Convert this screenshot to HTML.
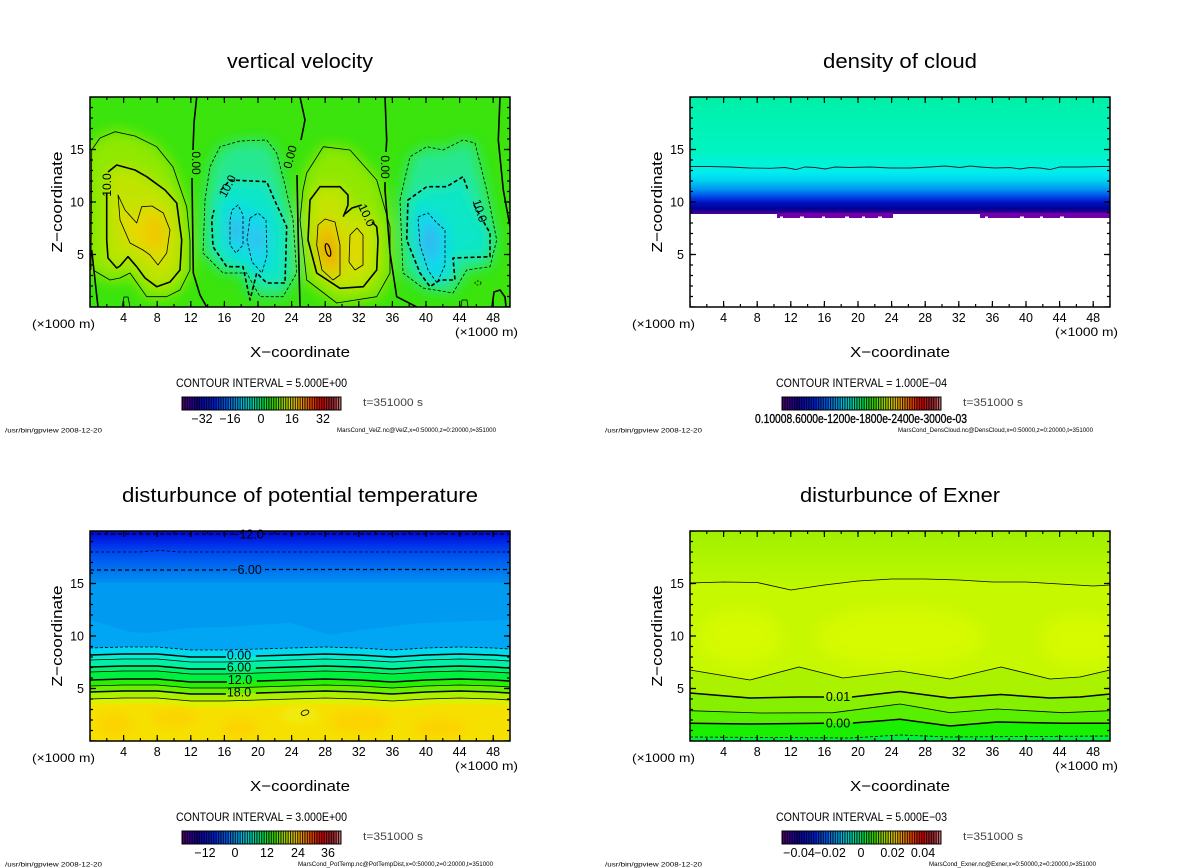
<!DOCTYPE html>
<html>
<head>
<meta charset="utf-8">
<style>
html,body{margin:0;padding:0;background:#fff;}
svg{display:block;}
text{font-family:"Liberation Sans",sans-serif;fill:#000;}
</style>
</head>
<body>
<svg width="1200" height="868" viewBox="0 0 1200 868" xmlns="http://www.w3.org/2000/svg">
<defs>
  <clipPath id="clip" clipPathUnits="userSpaceOnUse"><rect x="90" y="97" width="420" height="210"/></clipPath>
  <filter id="bl" x="-40%" y="-40%" width="180%" height="180%"><feGaussianBlur stdDeviation="7"/></filter>
  <filter id="bls" x="-40%" y="-40%" width="180%" height="180%"><feGaussianBlur stdDeviation="4"/></filter>
  <filter id="bl2" x="-30%" y="-30%" width="160%" height="160%"><feGaussianBlur stdDeviation="8"/></filter>
  <linearGradient id="cb" x1="0" y1="0" x2="1" y2="0">
    <stop offset="0" stop-color="#5a0080"/>
    <stop offset="0.1" stop-color="#1000a0"/>
    <stop offset="0.2" stop-color="#0020e0"/>
    <stop offset="0.3" stop-color="#0070f0"/>
    <stop offset="0.4" stop-color="#00d0e0"/>
    <stop offset="0.5" stop-color="#00e060"/>
    <stop offset="0.56" stop-color="#20e000"/>
    <stop offset="0.65" stop-color="#b0e000"/>
    <stop offset="0.72" stop-color="#f0c000"/>
    <stop offset="0.8" stop-color="#f06000"/>
    <stop offset="0.87" stop-color="#e00000"/>
    <stop offset="0.95" stop-color="#a02830"/>
    <stop offset="1" stop-color="#e08080"/>
  </linearGradient>
  <pattern id="stripes" x="182" y="0" width="2.4" height="20" patternUnits="userSpaceOnUse">
    <rect x="0" y="0" width="1.1" height="20" fill="#000" fill-opacity="0.85"/>
  </pattern>
  <linearGradient id="dens" x1="0" y1="97" x2="0" y2="216" gradientUnits="userSpaceOnUse">
    <stop offset="0" stop-color="#00f0a8"/>
    <stop offset="0.445" stop-color="#00f4c0"/>
    <stop offset="0.59" stop-color="#00f2e0"/>
    <stop offset="0.63" stop-color="#00eef0"/>
    <stop offset="0.70" stop-color="#00d4f0"/>
    <stop offset="0.78" stop-color="#0090f0"/>
    <stop offset="0.84" stop-color="#0044e8"/>
    <stop offset="0.89" stop-color="#0010c0"/>
    <stop offset="0.94" stop-color="#000090"/>
    <stop offset="0.975" stop-color="#400094"/>
    <stop offset="1" stop-color="#7000a8"/>
  </linearGradient>
  <linearGradient id="ptop" x1="0" y1="531" x2="0" y2="583" gradientUnits="userSpaceOnUse">
    <stop offset="0" stop-color="#0008c8"/>
    <stop offset="0.12" stop-color="#0018e0"/>
    <stop offset="0.4" stop-color="#0048f0"/>
    <stop offset="0.75" stop-color="#0074f0"/>
    <stop offset="1" stop-color="#0090f0"/>
  </linearGradient>
  <linearGradient id="etop" x1="0" y1="531" x2="0" y2="590" gradientUnits="userSpaceOnUse">
    <stop offset="0" stop-color="#a0f000"/>
    <stop offset="0.5" stop-color="#b0f400"/>
    <stop offset="1" stop-color="#bef800"/>
  </linearGradient>
</defs>

<rect x="0" y="0" width="1200" height="868" fill="#fff"/>

<!-- ================= PANEL 1 : vertical velocity ================= -->
<g>
  <g clip-path="url(#clip)">
    <rect x="90" y="97" width="420" height="210" fill="#3ae40c"/>
    <g filter="url(#bl)">
      <!-- updraft 1 -->
      <polygon fill="#90e800" points="84,275 84,150 100,136 115,129.7 135,134 156.7,144.7 173,165 188.7,206.7 192,240 192,272 180,292 166.7,299 146.7,299 130,276 120,281 110,283 93,273"/>
      <polygon fill="#c0e400" points="106.7,196.7 108,175 116.7,165 135,170 146.7,176.7 165,190 176.7,203 181.7,240 180,270 170,282 156.7,286.7 145,278 136.7,266.7 128,256.7 120,266 116.7,268 108,258 106.7,240"/>
      <polygon fill="#e8d800" points="118,195 125,210 136.7,223 141.7,206.7 152,206 163.3,213 170,230 166.7,253 158,265 150,255 143,250 130,243 120,220"/>
      <ellipse cx="155" cy="232" rx="9" ry="16" fill="#f0c400"/>
      <!-- downdraft 1 -->
      <polygon fill="#28e890" points="210,166.7 220,146.7 240,141 266.7,140 276.7,153 285,185 293,220 296.7,273 283,296.7 260,296.7 246.7,273 223,273 203,253 205,200"/>
      <polygon fill="#08e6c8" points="216.7,196.7 230,180 266.7,181.7 273,196.7 286.7,226.7 285,283 266.7,283 256.7,273 250,300 243,266.7 226.7,266.7 213,246.7 211.7,220"/>
      <polygon fill="#10d8f0" points="228,206 238,200 245,212 246,248 236,258 227,247 226,220"/>
      <polygon fill="#10d8f0" points="248,214 258,209 268,218 270,258 262,276 250,264 245,240"/>
      <ellipse cx="236" cy="230" rx="5" ry="14" fill="#40a8f0"/>
      <ellipse cx="258" cy="240" rx="5" ry="14" fill="#40b0f0"/>
      <!-- updraft 2 -->
      <polygon fill="#90e800" points="298,222 301,190 304.7,171 323.3,144.7 350,148 378.7,178 392,226.7 392,275 378.7,299 336.7,305 304.7,282"/>
      <polygon fill="#c4e400" points="310,200 320,186.7 336.7,186.7 350,196.7 343.3,216.7 360,206.7 376.7,226.7 376.7,270 363.3,286.7 340,288.3 316.7,273 310,240"/>
      <polygon fill="#eec400" points="318,225 325,219 335,222 340,245 340,275 333,280 322,270 316.7,245"/>
      <ellipse cx="328" cy="250" rx="6" ry="16" fill="#f09800" transform="rotate(-15 328 250)"/>
      <polygon fill="#e8d400" points="350,235 357,228 363,235 363,265 355,270 349,262"/>
      <!-- downdraft 2 -->
      <polygon fill="#28e890" points="400,200 410,156.7 426.7,146.7 443,150 463,140 475,143 486.7,190 496.7,240 490,266.7 466.7,270 453,293 423,288 403,273"/>
      <polygon fill="#08e6c8" points="408,200 426.7,186.7 446.7,186.7 463,176.7 470,196.7 490,233 490,256.7 453,258 455,280 440,280 430,286.7 420,273 406.7,240"/>
      <polygon fill="#10d8f0" points="414,214 428,209 438,218 448,228 448,266 438,286 426,272 416,245"/>
      <ellipse cx="430" cy="242" rx="7" ry="18" fill="#38acf0"/>
    </g>
    <!-- contour lines -->
    <g fill="none" stroke="#000" stroke-linejoin="round">
      <polyline stroke-width="0.8" points="91,270 91.7,150 100,138 115,131.7 135,136 156.7,146.7 173,167 186.7,206.7 190,240 190,270 180,290 166.7,296.7 146.7,296.7 130,273 120,278 110,280 93,270"/>
      <polyline stroke-width="1.6" points="106.7,193 106.7,240 108,258 116.7,268 120,266 128,256.7 136.7,266.7 145,278 156.7,286.7 170,282 180,270 181.7,240 176.7,203 165,190 146.7,176.7 135,170 116.7,165 108,172"/>
      <polygon stroke-width="0.8" points="118,195 125,210 136.7,223 141.7,206.7 152,206 163.3,213 170,230 166.7,253 158,265 150,255 143,250 130,243 120,220"/>
      <polygon stroke-width="0.8" stroke-dasharray="3 2" points="210,166.7 220,146.7 240,141 266.7,140 276.7,153 285,185 293,220 296.7,273 283,296.7 260,296.7 246.7,273 223,273 203,253 205,200"/>
      <polyline stroke-width="1.6" stroke-dasharray="4 2.5" points="221,190 230,180 266.7,181.7 273,196.7 286.7,226.7 285,283 266.7,283 256.7,273 250,300 243,266.7 226.7,266.7 213,246.7 211.7,220 214,210"/>
      <polygon stroke-width="0.8" stroke-dasharray="3 2" points="232,210 238,205 243,215 243,245 236,253 230,245 230,220"/>
      <polygon stroke-width="0.8" stroke-dasharray="3 2" points="250,218 258,213 266,220 267,255 262,273 252,262 247,240"/>
      <polygon stroke-width="0.8" points="300,220 303,190 306.7,173 323.3,146.7 350,150 376.7,180 390,226.7 390,273 376.7,296.7 336.7,303 306.7,280"/>
      <polyline stroke-width="1.6" points="343.3,216.7 348,205 348,195 340,186.7 320,186.7 310,200 308,240 316.7,273 340,288.3 363.3,286.7 376.7,270 378,240 376.7,226.7 372,222"/>
      <polyline stroke-width="1.6" points="361.7,205 352,208 345,214"/>
      <polygon stroke-width="0.8" points="318,225 325,219 335,222 340,245 340,275 333,280 322,270 316.7,245"/>
      <polygon stroke-width="0.8" points="350,235 357,228 363,235 363,265 355,270 349,262"/>
      <ellipse cx="328" cy="250" rx="2.3" ry="6.5" stroke-width="1.2" transform="rotate(-15 328 250)"/>
      <polygon stroke-width="0.8" stroke-dasharray="3 2" points="400,200 410,156.7 426.7,146.7 443,150 463,140 475,143 486.7,190 496.7,240 490,266.7 466.7,270 453,293 423,288 403,273"/>
      <polyline stroke-width="1.6" stroke-dasharray="4 2.5" points="474,205 490,233 490,256.7 453,258 455,280 440,280 430,286.7 420,273 406.7,240 408,200 426.7,186.7 446.7,186.7 463,176.7 468,190"/>
      <polygon stroke-width="0.8" stroke-dasharray="3 2" points="418,217 428,213 436,222 445,230 445,265 437,283 428,270 420,245"/>
      <!-- zero lines -->
      <polyline stroke-width="1.6" points="196.7,97 194,123 193,150"/>
      <polyline stroke-width="1.6" points="192,178 193.3,273 200,295 206.7,307"/>
      <polyline stroke-width="1.6" points="300,97 305,120 301,140"/>
      <polyline stroke-width="1.6" points="297,175 298,226.7 300,307"/>
      <polyline stroke-width="1.6" points="385,97 386.7,140 386,152"/>
      <polyline stroke-width="1.6" points="385,182 385,190 390,253 396.7,296.7 416.7,307"/>
      <polyline stroke-width="1.6" points="500,97 498.3,140 503.3,190 510,226.7"/>
      <polyline stroke-width="1.6" points="91.7,250 95,280 98,307"/>
      <polyline stroke-width="0.8" points="122,307 124,297 128,297 130,307"/>
      <polyline stroke-width="0.8" points="461,307 462,300 467,300 468,307"/>
      <polyline stroke-width="1.6" points="492,307 494,292 500,290 505,297 506,307"/>
      <ellipse cx="478" cy="283" rx="3" ry="2" stroke-width="0.8" stroke-dasharray="2 1.5"/>
    </g>
    <g font-size="12">
      <text transform="translate(111,185) rotate(-90)" text-anchor="middle">10.0</text>
      <text transform="translate(231,188) rotate(-62)" text-anchor="middle">10.0</text>
      <text transform="translate(363,217) rotate(65)" text-anchor="middle">10.0</text>
      <text transform="translate(476,212) rotate(72)" text-anchor="middle">10.0</text>
      <text transform="translate(192,163) rotate(90)" text-anchor="middle">0.00</text>
      <text transform="translate(294,158) rotate(-75)" text-anchor="middle">0.00</text>
      <text transform="translate(381,167) rotate(90)" text-anchor="middle">0.00</text>
    </g>
  </g>
</g>

<!-- ================= PANEL 2 : density of cloud ================= -->
<g transform="translate(600,0)">
  <g clip-path="url(#clip)">
    <rect x="90" y="97" width="420" height="210" fill="#fff"/>
    <rect x="90" y="97" width="420" height="117" fill="url(#dens)"/>
    <rect x="177" y="213" width="116" height="5" fill="#7000aa"/>
    <rect x="380" y="213" width="130" height="5" fill="#7000aa"/>
    <g fill="#fff">
      <rect x="180" y="216.5" width="3" height="2"/>
      <rect x="200" y="216.5" width="4" height="2"/>
      <rect x="222" y="216.5" width="3" height="2"/>
      <rect x="245" y="216.5" width="4" height="2"/>
      <rect x="262" y="216.5" width="3" height="2"/>
      <rect x="278" y="216.5" width="4" height="2"/>
      <rect x="385" y="216.5" width="3" height="2"/>
      <rect x="420" y="216.5" width="4" height="2"/>
      <rect x="440" y="216.5" width="3" height="2"/>
      <rect x="460" y="216.5" width="4" height="2"/>
    </g>
    <polyline fill="none" stroke="#222" stroke-width="0.9" points="90,166.5 110,166.5 130,167 150,168 170,168.3 185,167.5 196,169.5 205,167 215,167.5 225,169 235,167 250,167.5 270,167 290,168 310,168 330,167 345,166 360,167.5 370,166 380,167 395,168 410,167.5 420,169 430,167.5 440,168 450,169.5 460,167 480,167 500,166.5 510,166.5"/>
  </g>
</g>

<!-- ================= PANEL 3 : potential temperature ================= -->
<g>
  <rect x="90" y="531" width="420" height="52" fill="url(#ptop)"/>
  <rect x="90" y="583" width="420" height="158" fill="#009af0"/>
  <polygon fill="#00a6f4" points="90,620 130,632 150,633 190,628 230,626.7 290,623 330,635 360,630 420,623 510,620 510,741 90,741"/>
  <polygon fill="#00d8f0" points="90,648 123.6,647 157.2,647 190.8,650 224.4,650 258,649 291.6,648 325.2,647 358.8,648 392.4,650 426,648 459.6,647 493.2,648 510,649 510,741 90,741"/>
  <polygon fill="#00f0d0" points="90,655 123.6,654 157.2,654 190.8,657 224.4,657 258,656 291.6,655 325.2,654 358.8,655 392.4,657 426,655 459.6,654 493.2,655 510,656 510,741 90,741"/>
  <polygon fill="#00f0a4" points="90,660 123.6,659 157.2,659 190.8,662 224.4,662 258,661 291.6,660 325.2,659 358.8,660 392.4,662 426,660 459.6,659 493.2,660 510,661 510,741 90,741"/>
  <polygon fill="#00f070" points="90,667 123.6,666 157.2,666 190.8,669 224.4,669 258,668 291.6,667 325.2,666 358.8,667 392.4,669 426,667 459.6,666 493.2,667 510,668 510,741 90,741"/>
  <polygon fill="#00f040" points="90,672 123.6,671 157.2,671 190.8,674 224.4,674 258,673 291.6,672 325.2,671 358.8,672 392.4,674 426,672 459.6,671 493.2,672 510,673 510,741 90,741"/>
  <polygon fill="#28f000" points="90,680 123.6,679 157.2,679 190.8,682 224.4,682 258,681 291.6,680 325.2,679 358.8,680 392.4,682 426,680 459.6,679 493.2,680 510,681 510,741 90,741"/>
  <polygon fill="#68f000" points="90,686 123.6,685 157.2,685 190.8,688 224.4,688 258,687 291.6,686 325.2,685 358.8,686 392.4,688 426,686 459.6,685 493.2,686 510,687 510,741 90,741"/>
  <polygon fill="#acf000" points="90,692 123.6,691 157.2,691 190.8,694 224.4,694 258,693 291.6,692 325.2,691 358.8,692 392.4,694 426,692 459.6,691 493.2,692 510,693 510,741 90,741"/>
  <polygon fill="#dcf000" points="90,699 123.6,698 157.2,698 190.8,701 224.4,701 258,700 291.6,699 325.2,698 358.8,699 392.4,701 426,699 459.6,698 493.2,699 510,700 510,741 90,741"/>
  <polygon fill="#f6e000" points="90,705 123.6,704 157.2,704 190.8,707 224.4,707 258,706 291.6,705 325.2,704 358.8,705 392.4,707 426,705 459.6,704 493.2,705 510,706 510,741 90,741"/>
  <g clip-path="url(#clip)" transform="translate(0,434)">
    <g filter="url(#bls)" transform="translate(0,-434)">
      <ellipse cx="115" cy="725" rx="18" ry="12" fill="#fcd400"/>
      <ellipse cx="175" cy="718" rx="22" ry="9" fill="#fcd400"/>
      <ellipse cx="240" cy="728" rx="18" ry="10" fill="#fcd400"/>
      <ellipse cx="360" cy="722" rx="30" ry="12" fill="#fcd400"/>
      <ellipse cx="440" cy="728" rx="25" ry="10" fill="#fcd400"/>
      <ellipse cx="300" cy="715" rx="20" ry="8" fill="#f0ec10"/>
    </g>
  </g>
  <g fill="none" stroke="#000" stroke-linejoin="round">
    <line x1="90" y1="534" x2="234" y2="534" stroke-width="1.3" stroke-dasharray="4 3"/>
    <line x1="262" y1="534" x2="510" y2="534" stroke-width="1.3" stroke-dasharray="4 3"/>
    <polyline stroke-width="0.8" stroke-dasharray="3 2.5" points="90,552 140,552 160,550.5 180,552 510,552"/>
    <polyline stroke-width="1.3" stroke-dasharray="4 3" points="90,570 220,570 228,569.5"/>
    <line x1="265" y1="569.5" x2="510" y2="569.5" stroke-width="1.3" stroke-dasharray="4 3"/>
    <polyline stroke-width="0.8" stroke-dasharray="3 2" points="90,648 123.6,647 157.2,647 190.8,650 224.4,650 258,649 291.6,648 325.2,647 358.8,648 392.4,650 426,648 459.6,647 493.2,648 510,649"/>
    <polyline stroke-width="1.5" stroke-dasharray="136 30 400" points="90,655 123.6,654 157.2,654 190.8,657 224.4,657 258,656 291.6,655 325.2,654 358.8,655 392.4,657 426,655 459.6,654 493.2,655 510,656"/>
    <polyline stroke-width="0.8" points="90,660 123.6,659 157.2,659 190.8,662 224.4,662 258,661 291.6,660 325.2,659 358.8,660 392.4,662 426,660 459.6,659 493.2,660 510,661"/>
    <polyline stroke-width="1.5" stroke-dasharray="136 30 400" points="90,667 123.6,666 157.2,666 190.8,669 224.4,669 258,668 291.6,667 325.2,666 358.8,667 392.4,669 426,667 459.6,666 493.2,667 510,668"/>
    <polyline stroke-width="0.8" points="90,672 123.6,671 157.2,671 190.8,674 224.4,674 258,673 291.6,672 325.2,671 358.8,672 392.4,674 426,672 459.6,671 493.2,672 510,673"/>
    <polyline stroke-width="1.5" stroke-dasharray="137 30 400" points="90,680 123.6,679 157.2,679 190.8,682 224.4,682 258,681 291.6,680 325.2,679 358.8,680 392.4,682 426,680 459.6,679 493.2,680 510,681"/>
    <polyline stroke-width="0.8" points="90,686 123.6,685 157.2,685 190.8,688 224.4,688 258,687 291.6,686 325.2,685 358.8,686 392.4,688 426,686 459.6,685 493.2,686 510,687"/>
    <polyline stroke-width="1.5" stroke-dasharray="136 30 400" points="90,692 123.6,691 157.2,691 190.8,694 224.4,694 258,693 291.6,692 325.2,691 358.8,692 392.4,694 426,692 459.6,691 493.2,692 510,693"/>
    <polyline stroke-width="0.8" points="90,699 123.6,698 157.2,698 190.8,701 224.4,701 258,700 291.6,699 325.2,698 358.8,699 392.4,701 426,699 459.6,698 493.2,699 510,700"/>
    <ellipse cx="305" cy="712.7" rx="4" ry="2.5" stroke-width="0.8" transform="rotate(-20 305 712.7)"/>
  </g>
  <g font-size="12.5" text-anchor="middle">
    <text x="248" y="538.5">−12.0</text>
    <text x="246" y="574">−6.00</text>
    <text x="239" y="659.5">0.00</text>
    <text x="239" y="671.5">6.00</text>
    <text x="240" y="684">12.0</text>
    <text x="239" y="696.5">18.0</text>
  </g>
</g>

<!-- ================= PANEL 4 : Exner ================= -->
<g>
  <rect x="690" y="531" width="420" height="210" fill="url(#etop)"/>
  <polygon fill="#c6f800" points="690,583 723.6,582 757.2,582.5 790.8,590 824.4,585 858,581 891.6,579 925.2,579 958.8,580 992.4,582 1026,582 1059.6,584 1093.2,586 1110,585 1110,741 690,741"/>
  <g clip-path="url(#clip)" transform="translate(600,434)">
    <g filter="url(#bl2)" transform="translate(-600,-434)">
      <ellipse cx="740" cy="637" rx="42" ry="28" fill="#d6fa00"/>
      <ellipse cx="900" cy="637" rx="85" ry="30" fill="#d6fa00"/>
      <ellipse cx="1080" cy="640" rx="40" ry="26" fill="#d6fa00"/>
    </g>
  </g>
  <polygon fill="#aaf200" points="690,670 750,680 799,667 843,678 900,671 950,679 1001,667 1050,679 1080,677 1110,670 1110,741 690,741"/>
  <polygon fill="#86f000" points="690,693 750,698 799,697 850,697 900,691.5 950,698 1001,694.5 1050,698 1080,697 1110,694 1110,741 690,741"/>
  <polygon fill="#58f000" points="690,710.7 760,713 833,712.7 900,704 950,712.7 997,709 1063,712.7 1110,710.7 1110,741 690,741"/>
  <polygon fill="#18f000" points="690,723.3 750,724 833,723.3 900,719.3 950,726 997,722 1063,723.3 1110,723.3 1110,741 690,741"/>
  <polygon fill="#00f040" points="690,737 850,738 900,735 950,737 1110,736 1110,741 690,741"/>
  <g fill="none" stroke="#000" stroke-linejoin="round">
    <polyline stroke-width="0.8" points="690,583 723.6,582 757.2,582.5 790.8,590 824.4,585 858,581 891.6,579 925.2,579 958.8,580 992.4,582 1026,582 1059.6,584 1093.2,586 1110,585"/>
    <polyline stroke-width="0.8" points="690,670 750,680 799,667 843,678 900,671 950,679 1001,667 1050,679 1080,677 1110,670"/>
    <polyline stroke-width="1.5" points="690,693 750,698 799,697 824,697"/>
    <polyline stroke-width="1.5" points="852,697 900,691.5 950,698 1001,694.5 1050,698 1080,697 1110,694"/>
    <polyline stroke-width="0.8" points="690,710.7 760,713 833,712.7 900,704 950,712.7 997,709 1063,712.7 1110,710.7"/>
    <polyline stroke-width="1.5" points="690,723.3 750,724 824,723.3"/>
    <polyline stroke-width="1.5" points="853,723 900,719.3 950,726 997,722 1063,723.3 1110,723.3"/>
    <polyline stroke-width="0.8" stroke-dasharray="3 2" points="690,737 850,738 900,735 950,737 1110,736"/>
  </g>
  <g font-size="12.5" text-anchor="middle">
    <text x="838" y="701">0.01</text>
    <text x="838" y="727.5">0.00</text>
  </g>
</g>

<!-- ================= common decorations ================= -->
<g id="deco1">
  <g fill="none" stroke="#000">
    <rect x="90" y="97" width="420" height="210" stroke-width="1.5"/>
    <line x1="90" y1="305.5" x2="510" y2="305.5" stroke-width="3" stroke-dasharray="1.2 15.6" stroke-dashoffset="0.6"/>
    <line x1="90" y1="98.5" x2="510" y2="98.5" stroke-width="3" stroke-dasharray="1.2 15.6" stroke-dashoffset="0.6"/>
    <line x1="90" y1="304" x2="510" y2="304" stroke-width="6" stroke-dasharray="1.2 32.4" stroke-dashoffset="0.6"/>
    <line x1="90" y1="100" x2="510" y2="100" stroke-width="6" stroke-dasharray="1.2 32.4" stroke-dashoffset="0.6"/>
    <line x1="91.5" y1="307" x2="91.5" y2="97" stroke-width="3" stroke-dasharray="1.2 9.3" stroke-dashoffset="0.6"/>
    <line x1="508.5" y1="307" x2="508.5" y2="97" stroke-width="3" stroke-dasharray="1.2 9.3" stroke-dashoffset="0.6"/>
    <line x1="93" y1="307" x2="93" y2="97" stroke-width="6" stroke-dasharray="1.2 51.3" stroke-dashoffset="0.6"/>
    <line x1="507" y1="307" x2="507" y2="97" stroke-width="6" stroke-dasharray="1.2 51.3" stroke-dashoffset="0.6"/>
  </g>
  <g font-size="12.5" text-anchor="middle">
    <text x="123.6" y="322">4</text>
    <text x="157.2" y="322">8</text>
    <text x="190.8" y="322">12</text>
    <text x="224.4" y="322">16</text>
    <text x="258" y="322">20</text>
    <text x="291.6" y="322">24</text>
    <text x="325.2" y="322">28</text>
    <text x="358.8" y="322">32</text>
    <text x="392.4" y="322">36</text>
    <text x="426" y="322">40</text>
    <text x="459.6" y="322">44</text>
    <text x="493.2" y="322">48</text>
  </g>
  <g font-size="12.5" text-anchor="end">
    <text x="84" y="259">5</text>
    <text x="84" y="206.5">10</text>
    <text x="84" y="154">15</text>
  </g>
  <text x="32" y="328" font-size="12" textLength="63" lengthAdjust="spacingAndGlyphs">(×1000 m)</text>
  <text x="455" y="336" font-size="12" textLength="63" lengthAdjust="spacingAndGlyphs">(×1000 m)</text>
  <text x="300" y="357" font-size="15" text-anchor="middle" textLength="100" lengthAdjust="spacingAndGlyphs">X−coordinate</text>
  <text transform="translate(62,202) rotate(-90)" font-size="15" text-anchor="middle" textLength="101" lengthAdjust="spacingAndGlyphs">Z−coordinate</text>
  <rect x="182" y="397" width="159" height="13" fill="url(#cb)"/>
  <rect x="182" y="397" width="159" height="13" fill="url(#stripes)"/>
  <rect x="182" y="397" width="159" height="13" fill="none" stroke="#000" stroke-width="1"/>
  <text x="363" y="406" font-size="11" style="fill:#444" textLength="60" lengthAdjust="spacingAndGlyphs">t=351000 s</text>
  <text x="5" y="432.5" font-size="6.5" textLength="97" lengthAdjust="spacingAndGlyphs">/usr/bin/gpview  2008-12-20</text>
</g>
<use href="#deco1" transform="translate(600,0)"/>
<use href="#deco1" transform="translate(0,434)"/>
<use href="#deco1" transform="translate(600,434)"/>

<!-- titles -->
<g font-size="20" text-anchor="middle">
  <text x="300" y="68" textLength="146" lengthAdjust="spacingAndGlyphs">vertical velocity</text>
  <text x="900" y="68" textLength="154" lengthAdjust="spacingAndGlyphs">density of cloud</text>
  <text x="300" y="502" textLength="356" lengthAdjust="spacingAndGlyphs">disturbunce of potential temperature</text>
  <text x="900" y="502" textLength="200" lengthAdjust="spacingAndGlyphs">disturbunce of Exner</text>
</g>

<!-- contour interval -->
<g font-size="12">
  <text x="176" y="387" textLength="171" lengthAdjust="spacingAndGlyphs">CONTOUR INTERVAL = 5.000E+00</text>
  <text x="776" y="387" textLength="171" lengthAdjust="spacingAndGlyphs">CONTOUR INTERVAL = 1.000E−04</text>
  <text x="176" y="821" textLength="171" lengthAdjust="spacingAndGlyphs">CONTOUR INTERVAL = 3.000E+00</text>
  <text x="776" y="821" textLength="171" lengthAdjust="spacingAndGlyphs">CONTOUR INTERVAL = 5.000E−03</text>
</g>

<!-- colorbar labels -->
<g font-size="12.5" text-anchor="middle">
  <text x="202" y="423">−32</text>
  <text x="230" y="423">−16</text>
  <text x="261" y="423">0</text>
  <text x="292" y="423">16</text>
  <text x="323" y="423">32</text>

  <text x="205" y="857">−12</text>
  <text x="235" y="857">0</text>
  <text x="267" y="857">12</text>
  <text x="298" y="857">24</text>
  <text x="328" y="857">36</text>

  <text x="799" y="857">−0.04</text>
  <text x="830" y="857">−0.02</text>
  <text x="861" y="857">0</text>
  <text x="892.5" y="857">0.02</text>
  <text x="923" y="857">0.04</text>
</g>
<text x="755" y="423" font-size="12.5" textLength="212" lengthAdjust="spacingAndGlyphs" stroke="#000" stroke-width="0.3">0.10008.6000e-1200e-1800e-2400e-3000e-03</text>

<!-- footers -->
<g font-size="6.5">
  <text x="337" y="432" textLength="159" lengthAdjust="spacingAndGlyphs">MarsCond_VelZ.nc@VelZ,x=0:50000,z=0:20000,t=351000</text>
  <text x="898" y="432" textLength="195" lengthAdjust="spacingAndGlyphs">MarsCond_DensCloud.nc@DensCloud,x=0:50000,z=0:20000,t=351000</text>
  <text x="298" y="866" textLength="195" lengthAdjust="spacingAndGlyphs">MarsCond_PotTemp.nc@PotTempDist,x=0:50000,z=0:20000,t=351000</text>
  <text x="929" y="866" textLength="167" lengthAdjust="spacingAndGlyphs">MarsCond_Exner.nc@Exner,x=0:50000,z=0:20000,t=351000</text>
</g>
</svg>
</body>
</html>
